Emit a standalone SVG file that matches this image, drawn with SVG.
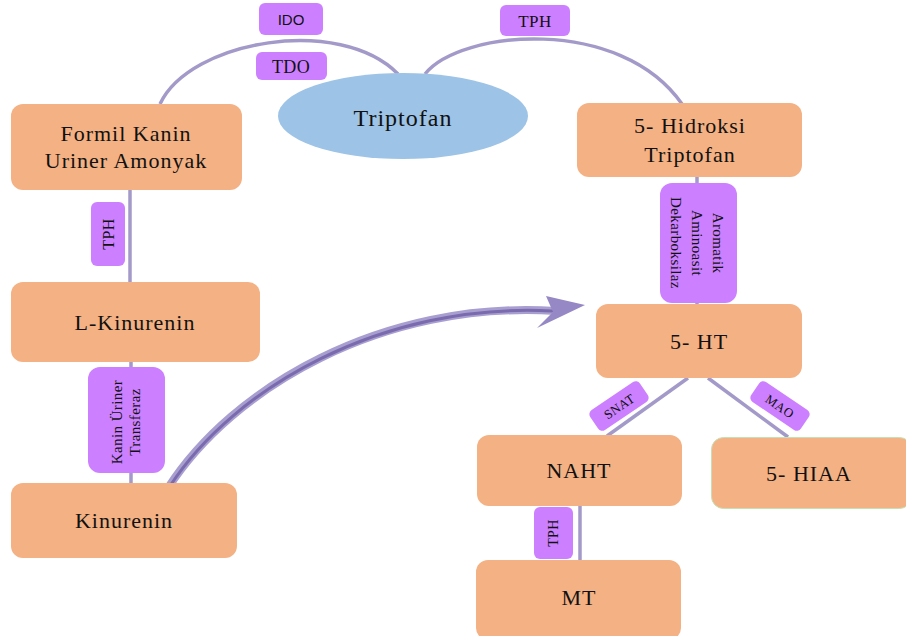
<svg xmlns="http://www.w3.org/2000/svg" width="906" height="636" viewBox="0 0 906 636">
<style>
.node{fill:#F4B183}
.lab{fill:#CC80FF}
.t{font-family:"Liberation Serif","Times New Roman",serif;font-size:22px;fill:#111;text-anchor:middle;letter-spacing:1px}
.s{font-family:"Liberation Serif","Times New Roman",serif;font-size:15px;fill:#111;text-anchor:middle;letter-spacing:0.4px}
.c{fill:none;stroke:#A39AC9;stroke-width:3.5}
</style>
<rect width="906" height="636" fill="#fff"/>
<g id="connectors">
<path class="c" d="M160 104 C190 40 340 15 398 74"/>
<path class="c" d="M425 74 C460 30 620 15 682 104"/>
<line class="c" x1="130" y1="189" x2="130" y2="282"/>
<line class="c" x1="131" y1="362" x2="131" y2="483"/>
<line class="c" x1="697" y1="177" x2="697" y2="304"/>
<line class="c" x1="688" y1="378" x2="607" y2="436"/>
<line class="c" x1="708" y1="378" x2="788" y2="437"/>
<line class="c" x1="580" y1="505" x2="580" y2="560"/>
<path d="M168 488 C232 388 382 300 556 311" fill="none" stroke="#A99ED0" stroke-width="8" stroke-linecap="round"/>
<path d="M170 486 C234 388 382 302 552 311" fill="none" stroke="#7A6AAE" stroke-width="3" stroke-linecap="round"/>
<polygon points="585,305 537,328 553,312 546,296" fill="#9588C4"/>
</g>
<g id="triptofan">
<ellipse cx="403" cy="116" rx="125" ry="43" fill="#9DC3E6"/>
<text class="t" x="403" y="126" style="font-size:24px">Triptofan</text>
</g>
<g id="formil">
<rect class="node" x="11" y="104" width="231" height="86" rx="12"/>
<text class="t" x="126" y="141">Formil Kanin</text>
<text class="t" x="126" y="168">Uriner Amonyak</text>
</g>
<g id="hidroksi">
<rect class="node" x="577" y="103" width="225" height="74" rx="12"/>
<text class="t" x="690" y="133">5- Hidroksi</text>
<text class="t" x="690" y="162">Triptofan</text>
</g>
<g id="lkinurenin">
<rect class="node" x="11" y="282" width="249" height="80" rx="12"/>
<text class="t" x="135" y="330">L-Kinurenin</text>
</g>
<g id="kinurenin">
<rect class="node" x="11" y="483" width="226" height="75" rx="12"/>
<text class="t" x="124" y="528">Kinurenin</text>
</g>
<g id="ht">
<rect class="node" x="596" y="304" width="206" height="74" rx="12"/>
<text class="t" x="699" y="349">5- HT</text>
</g>
<g id="naht">
<rect class="node" x="477" y="435" width="205" height="71" rx="12"/>
<text class="t" x="579" y="478">NAHT</text>
</g>
<g id="mt">
<rect class="node" x="476" y="560" width="205" height="80" rx="12"/>
<text class="t" x="579" y="605">MT</text>
</g>
<g id="hiaa">
<rect class="node" x="711.5" y="437.5" width="200" height="71" rx="12" stroke="#C5E0B4" stroke-width="1"/>
<text class="t" x="809" y="481">5- HIAA</text>
</g>
<g id="lab-ido">
<rect class="lab" x="259" y="3" width="64" height="32" rx="6"/>
<text x="291" y="25" font-family="Liberation Sans, Arial, sans-serif" font-size="15" fill="#111" text-anchor="middle">IDO</text>
</g>
<g id="lab-tdo">
<rect class="lab" x="256" y="52" width="71" height="28" rx="6"/>
<text class="s" x="291" y="73" style="font-size:18px">TDO</text>
</g>
<g id="lab-tph-top">
<rect class="lab" x="500" y="5" width="70" height="31" rx="6"/>
<text class="s" x="535" y="27" style="font-size:17px">TPH</text>
</g>
<g id="lab-tph-left">
<rect class="lab" x="91" y="202" width="34" height="64" rx="6"/>
<text class="s" transform="translate(108,234) rotate(-90)" x="0" y="6" style="font-size:16px">TPH</text>
</g>
<g id="lab-aadc">
<rect class="lab" x="660" y="183" width="77" height="120" rx="12"/>
<g transform="translate(697,243) rotate(90)">
<text class="s" x="0" y="-16">Aromatik</text>
<text class="s" x="0" y="5">Aminoasit</text>
<text class="s" x="0" y="26">Dekarboksilaz</text>
</g>
</g>
<g id="lab-kut">
<rect class="lab" x="88" y="367" width="77" height="106" rx="12"/>
<g transform="translate(126,422) rotate(-90)">
<text class="s" x="0" y="-4">Kanin Üriner</text>
<text class="s" x="0" y="14">Transferaz</text>
</g>
</g>
<g id="lab-snat">
<g transform="translate(619,406) rotate(-34)">
<rect class="lab" x="-30" y="-12" width="60" height="24" rx="5"/>
<text class="s" x="0" y="5" style="font-size:13px">SNAT</text>
</g>
</g>
<g id="lab-mao">
<g transform="translate(780,406) rotate(34)">
<rect class="lab" x="-30" y="-12" width="60" height="24" rx="5"/>
<text class="s" x="0" y="5" style="font-size:13px">MAO</text>
</g>
</g>
<g id="lab-tph-bottom">
<rect class="lab" x="534" y="507" width="39" height="52" rx="6"/>
<text class="s" transform="translate(553,533) rotate(-90)" x="0" y="5" style="font-size:14px">TPH</text>
</g>
</svg>
